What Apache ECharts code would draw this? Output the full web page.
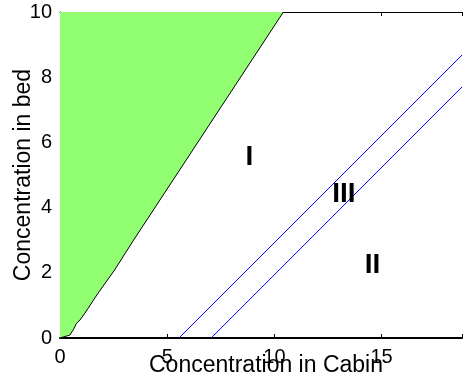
<!DOCTYPE html>
<html>
<head>
<meta charset="utf-8">
<script src="https://cdn.jsdelivr.net/npm/echarts@6/dist/echarts.min.js"></script>
<style>
  html, body { margin: 0; padding: 0; background: #fff; }
  #chart { width: 465px; height: 383px; }
</style>
</head>
<body>
<div id="chart"></div>
<script>
// Boundary of the shaded region (Cabin concentration, bed concentration)
const boundaryCabin = [0, 0.46, 0.62, 0.77, 0.93, 1.16, 1.31, 1.77, 2.55, 3.43, 10.42];
const boundaryBed   = [0, 0.09, 0.25, 0.45, 0.55, 0.76, 0.91, 1.37, 2.09, 3.0, 10];

// Two parallel limit lines
const upperLineCabin = [5.55, 18.75];
const upperLineBed   = [0, 8.68];
const lowerLineCabin = [7.05, 18.75];
const lowerLineBed   = [0, 7.70];

// Region labels
const regionNames = ['I', 'III', 'II'];
const regionCabin = [8.83, 13.24, 14.58];
const regionBed   = [5.55, 4.42, 2.24];

// Axis ticks
const xTicks = [0, 5, 10, 15];
const yTicks = [0, 2, 4, 6, 8, 10];

const zip = (a, b) => a.map((v, i) => [v, b[i]]);
const FONT = '"Liberation Sans", Arial, sans-serif';

const chart = echarts.init(document.getElementById('chart'));
chart.setOption({
  animation: false,
  backgroundColor: '#fff',
  grid: { left: 60, right: 0, top: 12, bottom: 45, containLabel: false },
  xAxis: [
    {
      type: 'value', position: 'bottom', min: 0, max: 18.75, interval: 5,
      axisLine: { show: true, onZero: false, lineStyle: { color: '#000', width: 2 } },
      axisTick: { show: true, inside: true, length: 4, lineStyle: { color: '#000' } },
      axisLabel: {
        show: true, margin: 9, color: '#000', fontSize: 20, fontFamily: FONT,
        formatter: v => (xTicks.indexOf(v) >= 0 ? String(v) : '')
      },
      splitLine: { show: false }
    },
    {
      type: 'value', position: 'top', min: 0, max: 18.75, interval: 5,
      axisLine: { show: true, onZero: false, lineStyle: { color: '#000', width: 1 } },
      axisTick: { show: true, inside: true, length: 4, lineStyle: { color: '#000' } },
      axisLabel: { show: false },
      splitLine: { show: false }
    }
  ],
  yAxis: {
    type: 'value', min: 0, max: 10, interval: 2,
    axisLine: { show: true, onZero: false, lineStyle: { color: '#000', width: 1 } },
    axisTick: { show: true, inside: true, length: 4, lineStyle: { color: '#000' } },
    axisLabel: {
      show: true, margin: 8, color: '#000', fontSize: 20, fontFamily: FONT,
      formatter: v => (yTicks.indexOf(v) >= 0 ? String(v) : '')
    },
    splitLine: { show: false }
  },
  series: [
    {
      type: 'line',
      data: zip(boundaryCabin, boundaryBed),
      symbol: 'none',
      lineStyle: { color: '#000', width: 1 },
      areaStyle: { color: 'rgb(146,255,115)', opacity: 1, origin: 'end' },
      z: 3
    },
    {
      type: 'line',
      data: zip(upperLineCabin, upperLineBed),
      symbol: 'none',
      lineStyle: { color: '#0000ff', width: 1 },
      z: 3
    },
    {
      type: 'line',
      data: zip(lowerLineCabin, lowerLineBed),
      symbol: 'none',
      lineStyle: { color: '#0000ff', width: 1 },
      z: 3
    },
    {
      type: 'scatter',
      symbolSize: 0,
      itemStyle: { color: '#000', opacity: 1 },
      data: regionNames.map((n, i) => ({ name: n, value: [regionCabin[i], regionBed[i]] })),
      label: {
        show: true, position: 'inside', formatter: p => p.name,
        color: '#000', textBorderWidth: 0, textBorderColor: 'transparent',
        fontSize: 28, fontWeight: 'bold', fontFamily: FONT
      },
      emphasis: { disabled: true },
      z: 4
    }
  ],
  graphic: [
    {
      type: 'text', x: 0, y: 0, style: {
        text: 'Concentration in Cabin', x: 266, y: 366, align: 'center', verticalAlign: 'middle',
        fontSize: 23, fontFamily: FONT, fill: '#000'
      }
    },
    {
      type: 'text', rotation: Math.PI / 2, x: 24, y: 175, style: {
        text: 'Concentration in bed', x: 0, y: 0, align: 'center', verticalAlign: 'middle',
        fontSize: 23, fontFamily: FONT, fill: '#000'
      }
    }
  ]
});
</script>
</body>
</html>
